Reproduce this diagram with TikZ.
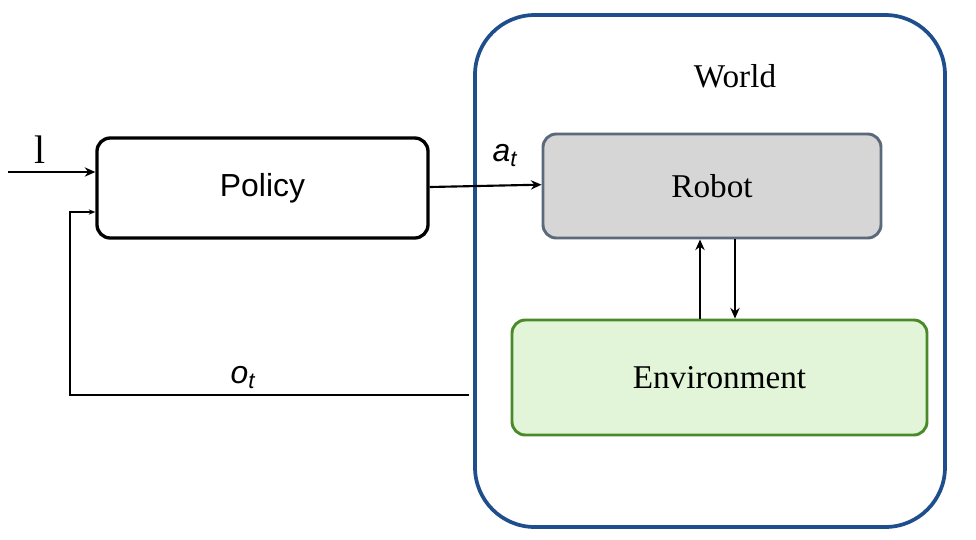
\documentclass[tikz,border=0pt]{standalone}
\usepackage{fontspec}
\setmainfont{Liberation Serif}
\newfontfamily\arial{Liberation Sans}
\usetikzlibrary{arrows.meta}
\definecolor{worldblue}{HTML}{1F4E8C}
\definecolor{robotfill}{HTML}{D6D6D6}
\definecolor{robotdraw}{HTML}{5A6A7A}
\definecolor{envfill}{HTML}{E2F5D8}
\definecolor{envdraw}{HTML}{4A8A2A}
\begin{document}
\begin{tikzpicture}[x=0.0264583cm,y=-0.0264583cm,
  conn/.style={draw=black,line width=1.6pt,-{Stealth[length=8pt,width=7pt]}},
  boxbase/.style={rounded corners=10pt,line width=2.2pt,minimum height=0},
]
\useasboundingbox (0,0) rectangle (976,539);
\node[draw=worldblue,line width=2.8pt,rounded corners=45pt,minimum width=470*0.0264583cm,minimum height=512*0.0264583cm] (world) at (710,271) {};
\node[font=\fontsize{25}{30}\selectfont] (wl) at (735,76) {World};
\node[boxbase,draw=robotdraw,fill=robotfill,minimum width=338*0.0264583cm,minimum height=104*0.0264583cm,font=\fontsize{25}{30}\selectfont] (robot) at (712,186) {Robot};
\node[boxbase,draw=envdraw,fill=envfill,minimum width=415*0.0264583cm,minimum height=115*0.0264583cm,font=\fontsize{25}{30}\selectfont] (env) at (719.5,377.5) {Environment};
\node[boxbase,draw=black,line width=2.5pt,minimum width=331*0.0264583cm,minimum height=100*0.0264583cm,font=\arial\fontsize{24}{29}\selectfont] (policy) at (262.5,188) {Policy};
\node[font=\fontsize{30}{34}\selectfont] (l) at (40,150) {l};
\coordinate (lin) at (8,172);
\coordinate (fb) at (469,395);
\draw[conn] (lin) -- (lin -| policy.west);
\draw[conn] (policy.east) ++(0,-1) -- ([yshift=1pt]robot.west);
\node[font=\arial\itshape\fontsize{24}{29}\selectfont] (at) at (505,156) {a\textsubscript{t}};
\draw[line width=1.6pt,-{Stealth[length=5pt,width=4pt]}] (fb) -- (70,395) -- (70,212) -- (policy.west |- 0,212);
\node[font=\arial\itshape\fontsize{24}{29}\selectfont] (ot) at (243,378) {o\textsubscript{t}};
\draw[conn] (env.north -| 700,0) -- (robot.south -| 700,0);
\draw[conn] (robot.south -| 735,0) -- (env.north -| 735,0);
\end{tikzpicture}
\end{document}
